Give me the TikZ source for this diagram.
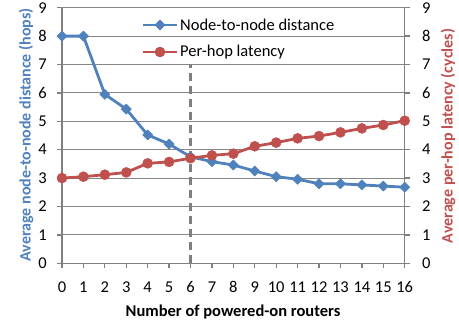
\documentclass[tikz,border=0pt]{standalone}
\usepackage{fontspec}
\setmainfont{Carlito}
\usetikzlibrary{plotmarks}
\definecolor{serblue}{HTML}{4F81BD}
\definecolor{serred}{HTML}{C0504D}
\definecolor{gridgray}{HTML}{868686}
\definecolor{axisgray}{HTML}{808080}
\definecolor{dashgray}{HTML}{7F7F7F}
\tikzset{
  gridline/.style={draw=gridgray, line width=1pt},
  axisline/.style={draw=axisgray, line width=1.3pt},
  ticklab/.style={font=\fontsize{16.5}{19}\selectfont, inner sep=0pt},
  titlelab/.style={font=\fontsize{16.5}{19}\selectfont\bfseries, inner sep=0pt},
  ytitlelab/.style={font=\fontsize{16}{19}\selectfont\bfseries, inner sep=0pt, rotate=90},
  bluser/.style={serblue, line width=2.8pt, line join=round, mark=square*, mark size=3.6pt, mark options={rotate=45, fill=serblue, draw=serblue, line width=0.5pt}},
  redser/.style={serred, line width=2.8pt, line join=round, mark=*, mark size=5pt, mark options={fill=serred, draw=serred, line width=0.5pt}},
  divider/.style={draw=dashgray, line width=2.4pt, dash pattern=on 8pt off 5pt}
}
\begin{document}
\begin{tikzpicture}[x=1pt,y=1pt]
\useasboundingbox (0,0) rectangle (459,325);
\begin{scope}[shift={(62pt,61.7pt)}, x=21.42pt, y=28.4pt]
  % grid
  \foreach \v in {1,...,9} \draw[gridline] (0,\v) -- (16,\v);
  % axes
  \draw[axisline] (0,0) -- (16,0);
  \draw[axisline] (0,0) -- (0,9);
  \draw[axisline] (16,0) -- (16,9);
  \foreach \v in {0,...,9} {
    \draw[axisline] (0,\v) -- ++(-5pt,0);
    \draw[axisline] (16,\v) -- ++(5pt,0);
    \node[ticklab] (yl\v) at ([xshift=-19.5pt]0,\v) {\v};
    \node[ticklab] (yr\v) at ([xshift=21.5pt]16,\v) {\v};
  }
  \foreach \i in {0,...,16} {
    \draw[axisline] (\i,0) -- ++(0,-5pt);
    \node[ticklab] (xl\i) at ([yshift=-23.7pt]\i,0) {\i};
  }
  % divider
  \coordinate (dtop) at (6,7.02);
  \coordinate (dbot) at (6,0);
  \draw[divider] (dbot) -- (dtop);
  % series
  \draw[bluser] plot coordinates {(0,8) (1,8) (2,5.95) (3,5.43) (4,4.52) (5,4.2) (6,3.75) (7,3.58) (8,3.46) (9,3.25) (10,3.05) (11,2.96) (12,2.8) (13,2.8) (14,2.76) (15,2.72) (16,2.68)};
  \draw[redser] plot coordinates {(0,3) (1,3.05) (2,3.12) (3,3.2) (4,3.52) (5,3.57) (6,3.7) (7,3.8) (8,3.86) (9,4.12) (10,4.25) (11,4.4) (12,4.48) (13,4.61) (14,4.75) (15,4.87) (16,5.02)};
\end{scope}
% legend
\coordinate (l1a) at (143,300);
\coordinate (l1b) at (177,300);
\coordinate (l2a) at (143,273);
\coordinate (l2b) at (177,273);
\draw[serblue, line width=2.8pt] (l1a) -- (l1b);
\draw[serred, line width=2.8pt] (l2a) -- (l2b);
\path[bluser] plot coordinates {(160,300)};
\path[redser] plot coordinates {(160,273)};
\node[ticklab, anchor=west] (leg1) at (180,300) {Node-to-node distance};
\node[ticklab, anchor=west] (leg2) at (180,273) {Per-hop latency};
% titles
\node[titlelab] (xtitle) at (233,13.3) {Number of powered-on routers};
\node[ytitlelab, text=serblue] (ytitleL) at (26,190) {Average node-to-node distance (hops)};
\node[ytitlelab, text=serred] (ytitleR) at (448,189) {Average per-hop latency (cycles)};
\end{tikzpicture}
\end{document}
